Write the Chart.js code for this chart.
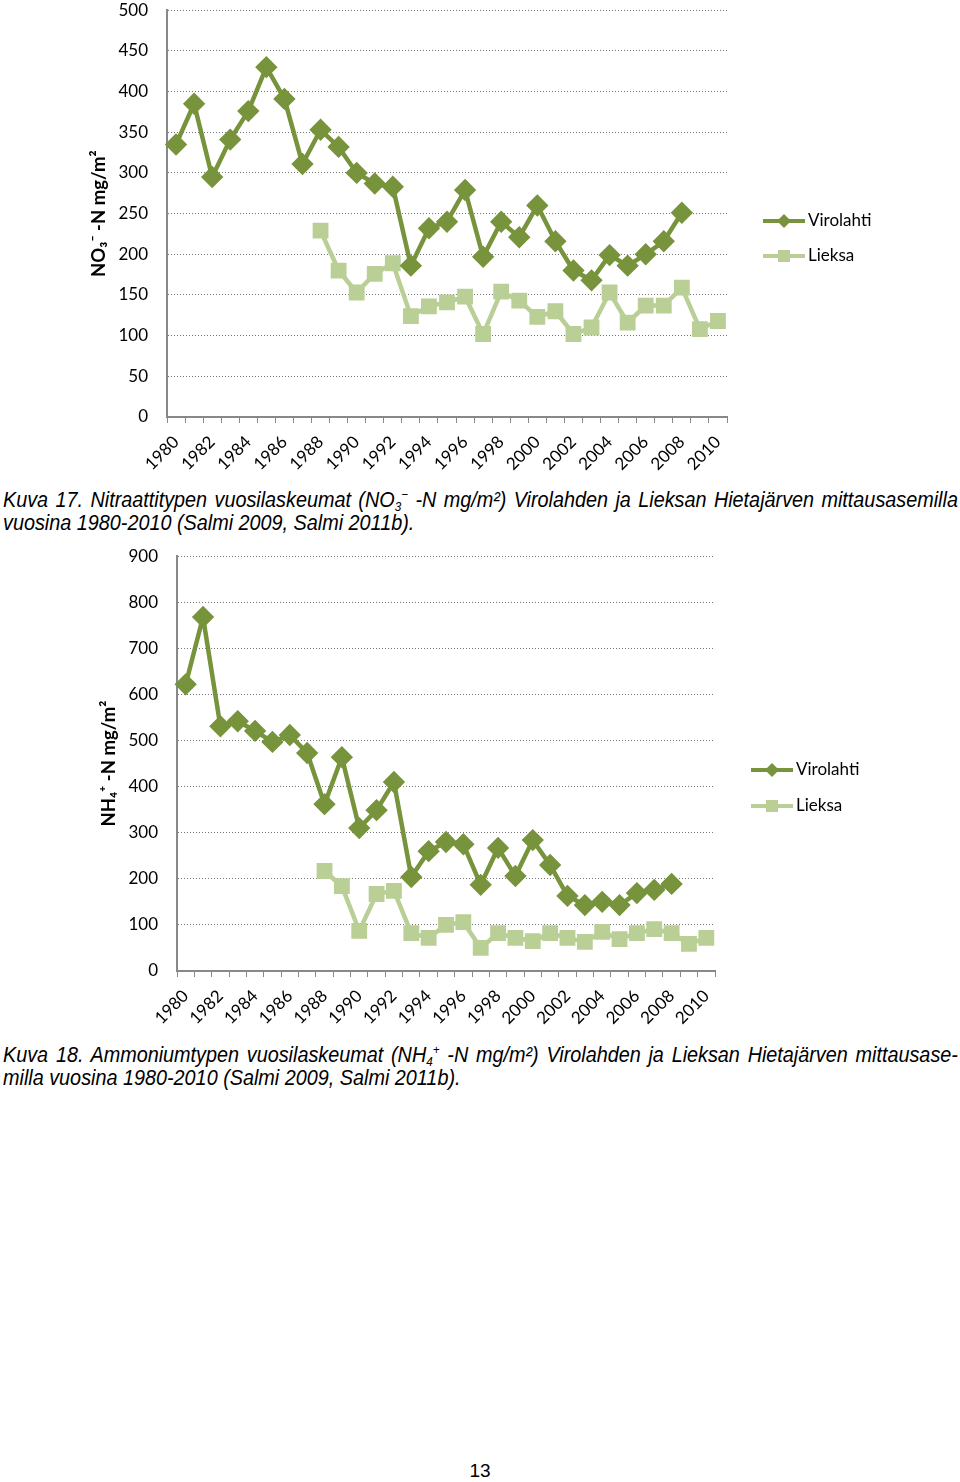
<!DOCTYPE html>
<html>
<head>
<meta charset="utf-8">
<script src="https://cdn.jsdelivr.net/npm/chart.js@4.4.0/dist/chart.umd.min.js"></script>
<style>
body{margin:0;background:#fff;width:960px;height:1482px;position:relative;overflow:hidden}
.box{position:absolute;left:0;width:960px}
.cap{position:absolute;left:3px;width:1061px;transform:scaleX(0.9);transform-origin:0 0;font-family:"Liberation Sans",sans-serif;font-style:italic;font-size:22px;line-height:23px;color:#000}
.cap .l1{text-align:justify;text-align-last:justify}
.cap sub,.cap sup{font-size:13px;vertical-align:baseline;position:relative;line-height:0}
.cap sub{top:4px}
.cap sup{top:-8px}
.page{position:absolute;top:1460px;left:0;width:960px;text-align:center;font-family:"Liberation Sans",sans-serif;font-size:19px}
</style>
</head>
<body>
<div class="box" style="top:-19px;height:495px"><canvas id="no3"></canvas></div>
<div class="cap" style="top:488px">
  <div class="l1">Kuva 17. Nitraattitypen vuosilaskeumat (NO<sub>3</sub><sup>−</sup> -N mg/m²) Virolahden ja Lieksan Hietajärven mittausasemilla</div>
  <div>vuosina 1980-2010 (Salmi 2009, Salmi 2011b).</div>
</div>
<div class="box" style="top:527px;height:503px"><canvas id="nh4"></canvas></div>
<div class="cap" style="top:1043px">
  <div class="l1">Kuva 18. Ammoniumtypen vuosilaskeumat (NH<sub>4</sub><sup>+</sup> -N mg/m²) Virolahden ja Lieksan Hietajärven mittausase-</div>
  <div>milla vuosina 1980-2010 (Salmi 2009, Salmi 2011b).</div>
</div>
<div class="page">13</div>
<script>
// vuodet 1980-2010
const years=[];
for(let y=1980;y<=2010;y++) years.push(String(y));

// nitraatti NO3-N mg/m2
const no3Virolahti=[335,385,295,341,376,430,391,311,353,332,300,287,283,186,232,240,279,197,240,221,260,216,180,168,199,186,200,216,251,null,null];
const no3Lieksa=[null,null,null,null,null,null,null,null,229,180,153,176,189,124,136,141,148,102,154,143,123,130,102,110,153,116,137,137,159,108,118];
const no3Ticks=[0,50,100,150,200,250,300,350,400,450,500];

// ammonium NH4-N mg/m2
const nh4Virolahti=[622,768,531,542,521,497,512,473,362,464,310,349,410,204,260,280,275,187,267,206,284,230,163,143,150,143,169,176,189,null,null];
const nh4Lieksa=[null,null,null,null,null,null,null,null,217,184,87,167,174,82,72,100,106,50,82,72,65,82,72,63,85,69,82,91,82,59,72];
const nh4Ticks=[0,100,200,300,400,500,600,700,800,900];

const seriesNames=['Virolahti','Lieksa'];
const darkGreen='#77933c', lightGreen='#b9cf96';
const tickFont={family:'Lato, "Open Sans", sans-serif',size:17};

// piirtää legendan käsin kaavion oikealle puolelle
const sideLegend={
  id:'sideLegend',
  afterDraw(chart,args,opts){
    const ctx=chart.ctx, a=chart.chartArea;
    chart.data.datasets.forEach((ds,i)=>{
      const x=a.right+opts.dx, y=opts.y[i];
      ctx.save();
      ctx.strokeStyle=ds.borderColor;
      ctx.lineWidth=4;
      ctx.beginPath();ctx.moveTo(x,y);ctx.lineTo(x+42,y);ctx.stroke();
      ctx.fillStyle=ds.backgroundColor;
      ctx.beginPath();
      if(ds.pointStyle==='rectRot'){
        ctx.moveTo(x+21,y-7);ctx.lineTo(x+28,y);ctx.lineTo(x+21,y+7);ctx.lineTo(x+14,y);
      }else{
        ctx.rect(x+15,y-6,12,12);
      }
      ctx.fill();
      ctx.fillStyle='#000';
      ctx.font='17px '+tickFont.family;
      ctx.textBaseline='middle';
      ctx.fillText(ds.label,x+45,y);
      ctx.restore();
    });
  }
};

function makeChart(id,v1,v2,ticks,title,pad,yW,xH,legendY){
  const ymax=ticks[ticks.length-1], step=ticks[1]-ticks[0];
  return new Chart(document.getElementById(id),{
    type:'line',
    data:{
      labels:years,
      datasets:[
        {label:seriesNames[0],data:v1,borderColor:darkGreen,backgroundColor:darkGreen,borderWidth:4.5,
         pointStyle:'rectRot',pointRadius:8,pointHoverRadius:8,tension:0},
        {label:seriesNames[1],data:v2,borderColor:lightGreen,backgroundColor:lightGreen,borderWidth:4.5,
         pointStyle:'rect',pointRadius:8,pointHoverRadius:8,tension:0}
      ]
    },
    options:{
      responsive:true,maintainAspectRatio:false,animation:false,
      layout:{padding:pad},
      plugins:{legend:{display:false},tooltip:{enabled:false},sideLegend:{dx:36,y:legendY}},
      scales:{
        x:{
          offset:true,
          afterFit:s=>{s.height=xH},
          grid:{drawOnChartArea:false,drawTicks:true,tickLength:6,color:'#888',offset:true},
          border:{color:'#888',width:2},
          ticks:{autoSkip:false,minRotation:45,maxRotation:45,padding:9,color:'#000',font:tickFont,
            callback:(v,i)=>i%2===0?years[i]:''}
        },
        y:{
          min:0,max:ymax,
          afterFit:s=>{s.width=yW},
          grid:{drawTicks:false,color:'#777'},
          border:{color:'#888',width:2,dash:[1,2]},
          ticks:{stepSize:step,padding:19,color:'#000',font:tickFont},
          title:{display:true,text:title,color:'#000',font:{family:tickFont.family,size:18.5,weight:'bold'},padding:0}
        }
      }
    },
    plugins:[sideLegend]
  });
}

makeChart('no3',no3Virolahti,no3Lieksa,no3Ticks,'NO₃⁻ -N mg/m²',{left:88,right:233,top:0,bottom:0},79,59,[240,275]);
makeChart('nh4',nh4Virolahti,nh4Lieksa,nh4Ticks,'NH₄⁺ -N mg/m²',{left:98,right:245,top:0,bottom:0},79,59,[243,279]);
</script>
</body>
</html>
